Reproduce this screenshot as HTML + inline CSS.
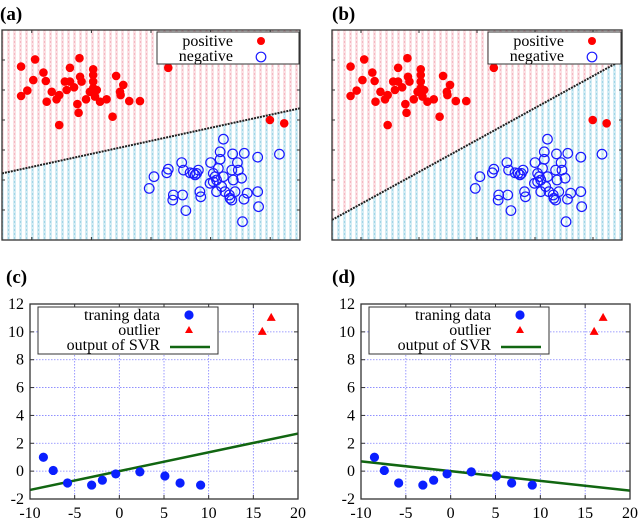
<!DOCTYPE html>
<html><head><meta charset="utf-8"><style>
body{margin:0;background:#fff}
svg{display:block}
text{font-family:"Liberation Serif",serif}
</style></head><body>
<svg id="s" width="640" height="521" viewBox="0 0 640 521" xmlns="http://www.w3.org/2000/svg">
<defs>
<pattern id="pp" width="6" height="4" patternUnits="userSpaceOnUse"><rect width="6" height="4" fill="#fff"/><rect x="1" y="0" width="3" height="4" fill="#fbe0e4"/><rect x="2" y="1" width="1" height="2" fill="#f4b8c2"/></pattern>
<pattern id="pb" width="6" height="4" patternUnits="userSpaceOnUse"><rect width="6" height="4" fill="#fff"/><rect x="1" y="0" width="3" height="4" fill="#d3ecf4"/><rect x="2" y="1" width="1" height="2" fill="#a0d5e6"/></pattern>
</defs>
<g id="root"></g>
</svg>
<script>
// classification data (shared by panels a and b), feature units
const posX=[0.64,1.11,1.05,0.64,0.85,1.39,1.47,1.50,1.67,1.83,1.92,1.92,2.11,2.17,2.28,2.28,2.42,2.53,2.57,2.60,2.62,2.67,2.82,2.95,3.06,3.06,3.06,3.06,3.12,3.18,3.29,3.51,3.71,3.83,3.96,3.98,4.07,4.27,4.63,5.58,8.99,9.47];
const posY=[5.78,6.02,5.33,4.8,4.98,5.58,5.3,4.61,4.94,4.69,3.83,4.83,5.28,5.0,5.74,5.28,5.09,4.53,4.24,6.06,5.44,5.28,4.69,4.94,5.69,5.5,5.28,5.06,4.78,5.0,4.61,4.69,4.11,5.47,4.94,4.83,5.17,4.63,4.63,5.74,4.0,3.89];
const negX=[4.94,5.10,5.58,5.53,5.75,5.73,6.03,6.09,6.06,6.17,6.31,6.42,6.53,6.59,6.48,6.64,6.67,7.0,7.09,6.98,7.09,7.15,7.2,7.26,7.32,7.32,7.43,7.37,7.43,7.2,7.48,7.63,7.65,7.71,7.74,7.71,7.82,7.76,7.9,7.93,8.04,8.13,8.12,8.23,8.58,8.58,8.61,8.07,9.31];
const negY=[1.72,2.11,2.36,2.24,1.5,1.33,2.58,2.33,1.5,0.98,2.24,2.22,2.22,2.33,2.17,1.61,1.44,2.58,2.22,1.89,1.94,2.11,2.0,2.39,2.94,2.69,3.36,1.78,2.11,1.61,1.61,1.5,1.39,1.33,2.87,2.33,1.61,2.0,2.58,2.33,2.06,2.89,1.36,1.56,2.76,1.61,1.11,0.61,2.86];
const boundA=[2.22,4.39]; // y at x=0 and x=10
const boundB=[0.67,6.0];
// regression data (panels c and d)
const trainX=[-8.5,-7.4,-5.8,-3.1,-1.9,-0.4,2.3,5.1,6.8,9.1];
const trainY=[1,0.05,-0.85,-1,-0.65,-0.2,-0.05,-0.35,-0.85,-1];
const outX=[16,17];
const outY=[10,11];
const svrC=[-1.35,2.7]; // y at x=-10 and x=20
const svrD=[0.7,-1.4];
const xTicks=[-10,-5,0,5,10,15,20];
const yTicks=[-2,0,2,4,6,8,10,12];

const NS='http://www.w3.org/2000/svg';
const root=document.getElementById('root');
function mk(tag,attrs,parent,txt){const e=document.createElementNS(NS,tag);for(const k in attrs)e.setAttribute(k,attrs[k]);if(txt!==undefined)e.textContent=txt;(parent||root).appendChild(e);return e;}

function classPanel(name,L,R,T,B,bound,leg){
  const g=mk('g',{});
  
  
  const sx=v=>L+(v-0)/10*(R-L), sy=v=>B-(v/7)*(B-T);
  const y0=sy(bound[0]), y1=sy(bound[1]);
  const up=mk('polygon',{points:`${L},${T} ${R},${T} ${R},${y1} ${L},${y0}`,fill:'url(#pp)'},g);
  
  
  const dn=mk('polygon',{points:`${L},${y0} ${R},${y1} ${R},${B} ${L},${B}`,fill:'url(#pb)'},g);
  
  
  const bl=mk('line',{x1:L,y1:y0,x2:R,y2:y1,stroke:'#222','stroke-width':2,'stroke-dasharray':'2,1'},g);
  
  
  for(let i=0;i<negX.length;i++){const c=mk('circle',{cx:sx(negX[i]),cy:sy(negY[i]),r:4.8,fill:'none',stroke:'#1a1aff','stroke-width':1.2},g);
    
    }
  for(let i=0;i<posX.length;i++){const c=mk('circle',{cx:sx(posX[i]),cy:sy(posY[i]),r:4.3,fill:'#f00'},g);
    
    }
  const fr=mk('rect',{x:L,y:T,width:R-L,height:B-T,fill:'none',stroke:'#333','stroke-width':1.3},g);
  
  
  for(let t=1;t<=9;t+=2){mk('line',{x1:sx(t),x2:sx(t),y1:B,y2:B-3,stroke:'#333'},g);mk('line',{x1:sx(t),x2:sx(t),y1:T,y2:T+3,stroke:'#333'},g);}
  for(let t=1;t<=6;t++){mk('line',{x1:L,x2:L+3,y1:sy(t),y2:sy(t),stroke:'#333'},g);mk('line',{x1:R,x2:R-3,y1:sy(t),y2:sy(t),stroke:'#333'},g);}
  const lg=mk('g',{},g);
  
  
  mk('rect',{x:leg,y:32,width:R-1-leg,height:32,fill:'#fff',stroke:'#333','stroke-width':1},lg);
  mk('text',{x:leg+76,y:46,'text-anchor':'end','font-size':16},lg,'positive');
  mk('text',{x:leg+76,y:61,'text-anchor':'end','font-size':16},lg,'negative');
  mk('circle',{cx:leg+104,cy:41,r:4,fill:'#f00'},lg);
  mk('circle',{cx:leg+104,cy:57,r:4.8,fill:'none',stroke:'#1a1aff','stroke-width':1.2},lg);
}

function regPanel(name,L,R,T,B,svr,leg,labX){
  const g=mk('g',{});
  
  
  const sx=v=>L+(v+10)/30*(R-L), sy=v=>B-(v+2)/14*(B-T);
  xTicks.forEach(t=>{if(t>-10&&t<20){mk('line',{x1:sx(t),x2:sx(t),y1:T,y2:B,stroke:'#8080ff','stroke-width':0.8,'stroke-dasharray':'1.5,1.5'},g);}
    const tl=mk('text',{x:sx(t),y:518,'text-anchor':'middle','font-size':16},g,String(t));
    
    
    mk('line',{x1:sx(t),x2:sx(t),y1:B,y2:B-4,stroke:'#333'},g);mk('line',{x1:sx(t),x2:sx(t),y1:T,y2:T+4,stroke:'#333'},g);});
  yTicks.forEach(t=>{if(t>-2&&t<12){mk('line',{x1:L,x2:R,y1:sy(t),y2:sy(t),stroke:'#8080ff','stroke-width':0.8,'stroke-dasharray':'1.5,1.5'},g);}
    const tl=mk('text',{x:labX,y:sy(t)+5,'text-anchor':'end','font-size':16},g,String(t));
    
    
    mk('line',{x1:L,x2:L+4,y1:sy(t),y2:sy(t),stroke:'#333'},g);mk('line',{x1:R,x2:R-4,y1:sy(t),y2:sy(t),stroke:'#333'},g);});
  const ln=mk('line',{x1:sx(-10),y1:sy(svr[0]),x2:sx(20),y2:sy(svr[1]),stroke:'#116611','stroke-width':2.5},g);
  
  
  for(let i=0;i<trainX.length;i++){const c=mk('circle',{cx:sx(trainX[i]),cy:sy(trainY[i]),r:4.6,fill:'#0a1fff'},g);
    
    }
  for(let i=0;i<outX.length;i++){const x=sx(outX[i]),y=sy(outY[i]);const p=mk('polygon',{points:`${x},${y-5} ${x+4.5},${y+3} ${x-4.5},${y+3}`,fill:'#f00'},g);
    
    }
  const fr=mk('rect',{x:L,y:T,width:R-L,height:B-T,fill:'none',stroke:'#333','stroke-width':1.3},g);
  
  
  const lg=mk('g',{},g);
  
  
  mk('rect',{x:leg,y:307,width:180,height:47,fill:'#fff',stroke:'#333','stroke-width':1},lg);
  mk('text',{x:leg+122,y:320,'text-anchor':'end','font-size':16},lg,'traning data');
  mk('text',{x:leg+122,y:335,'text-anchor':'end','font-size':16},lg,'outlier');
  mk('text',{x:leg+122,y:350,'text-anchor':'end','font-size':16},lg,'output of SVR');
  mk('circle',{cx:leg+151,cy:315,r:4.6,fill:'#0a1fff'},lg);
  mk('polygon',{points:`${leg+151},${326} ${leg+155},${333} ${leg+147},${333}`,fill:'#f00'},lg);
  mk('line',{x1:leg+132,x2:leg+172,y1:347,y2:347,stroke:'#116611','stroke-width':2.5},lg);
}

classPanel('panel-a',2,300,30,240,boundA,157);
classPanel('panel-b',332,622,30,240,boundB,488);
regPanel('panel-c',30,298,304,499,svrC,38,24);
regPanel('panel-d',361,630,304,499,svrD,369,355);
[['(a)',0,20],['(b)',332,20],['(c)',6,283],['(d)',332,283]].forEach(([t,x,y])=>{
  const e=mk('text',{x:x,y:y,'font-size':19,'font-weight':'bold'},root,t);
  
  
});
</script>
</body></html>
